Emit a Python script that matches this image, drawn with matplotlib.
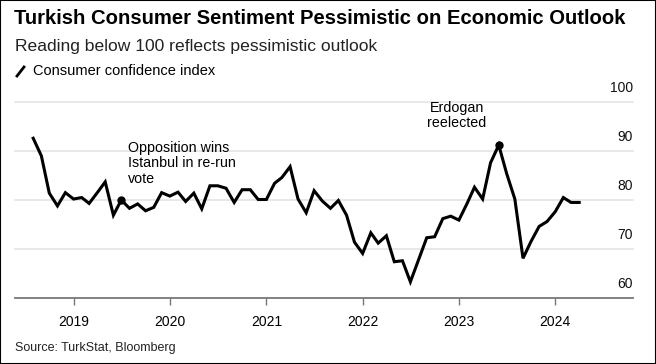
import numpy as np
import pandas as pd
import matplotlib.pyplot as plt
import matplotlib.dates as mdates
from matplotlib.lines import Line2D
from matplotlib.patches import Rectangle

plt.rcParams['font.family'] = ['Liberation Sans', 'DejaVu Sans']

# monthly readings, Aug 2018 .. Apr 2024
start_month = "2018-08-01"
values = [92.6, 89.0, 81.4, 78.8, 81.5, 80.2, 80.5, 79.3, 81.5, 83.7,
          76.9, 80.0, 78.3, 79.2, 77.8, 78.5, 81.5, 80.8, 81.6, 79.7,
          81.4, 78.2, 82.9, 82.9, 82.4, 79.5, 82.1, 82.1, 80.1, 80.1,
          83.4, 84.6, 86.8, 80.2, 77.4, 81.9, 79.8, 78.3, 79.9, 76.9,
          71.4, 69.1, 73.3, 71.2, 72.7, 67.4, 67.6, 63.3, 67.8, 72.3,
          72.5, 76.2, 76.7, 75.9, 79.3, 82.6, 80.2, 87.6, 91.2, 85.4,
          80.2, 68.1, 71.5, 74.6, 75.6, 77.6, 80.5, 79.5, 79.5]
dates = pd.date_range(start_month, periods=len(values), freq="MS")

# annotated events
events = ["2019-07-01", "2023-06-01"]
event_labels = ["Opposition wins\nIstanbul in re-run\nvote", "Erdogan\nreelected"]

yticks = [60, 70, 80, 90, 100]
years = [2019, 2020, 2021, 2022, 2023, 2024]

fig = plt.figure(figsize=(6.56, 3.64), dpi=100)
ax = fig.add_axes([15/656, 66/364, 618/656, 196/364])

for v in yticks[1:]:
    ax.axhline(v, color="#e1e1e1", lw=1.1, zorder=0, clip_on=False)
for v in yticks:
    ax.text(1.0, v + 1.4, str(v), transform=ax.get_yaxis_transform(),
            ha="right", va="bottom", fontsize=10, color="#111111")

ax.plot(dates, values, color="black", lw=2.2, solid_joinstyle="miter", zorder=3)

ev = pd.to_datetime(events)
ev_vals = [values[list(dates).index(d)] for d in ev]
ax.plot(ev, ev_vals, "o", color="black", ms=5, zorder=4)

ax.text(pd.Timestamp("2019-07-27"), 87.5, event_labels[0], ha="left", va="center",
        fontsize=10.3, linespacing=1.12)
ax.text(pd.Timestamp("2022-12-24"), 97.2, event_labels[1], ha="center", va="center",
        fontsize=10.3, linespacing=1.12)

ax.set_xlim(pd.Timestamp("2018-05-24"), pd.Timestamp("2024-10-22"))
ax.set_ylim(60, 100)
ax.set_xticks([pd.Timestamp(f"{y}-01-01") for y in years])
ax.xaxis.set_major_formatter(mdates.DateFormatter("%Y"))
ax.tick_params(axis="x", length=5, width=1, color="#777777", pad=7, labelsize=10)
ax.set_yticks([])
for s in ["top", "left", "right"]:
    ax.spines[s].set_visible(False)
ax.spines["bottom"].set_color("#777777")
ax.spines["bottom"].set_linewidth(1.3)
ax.patch.set_alpha(0)

fig.text(14/656, 1 - 18/364, "Turkish Consumer Sentiment Pessimistic on Economic Outlook",
         fontsize=14.6, fontweight="bold", ha="left", va="center")
fig.text(15/656, 1 - 46/364, "Reading below 100 reflects pessimistic outlook",
         fontsize=12.6, ha="left", va="center", color="#222222")
fig.add_artist(Line2D([17/656, 24/656], [1 - 76/364, 1 - 67/364], color="black", lw=2))
fig.text(33/656, 1 - 71/364, "Consumer confidence index", fontsize=10.5,
         ha="left", va="center")
fig.text(15/656, 1 - 348/364, "Source: TurkStat, Bloomberg", fontsize=9,
         ha="left", va="center", color="#222222")
fig.add_artist(Rectangle((0, 0), 1, 1, transform=fig.transFigure, fill=False,
                         edgecolor="black", lw=1.5))

fig.savefig("out.png", dpi=100)
